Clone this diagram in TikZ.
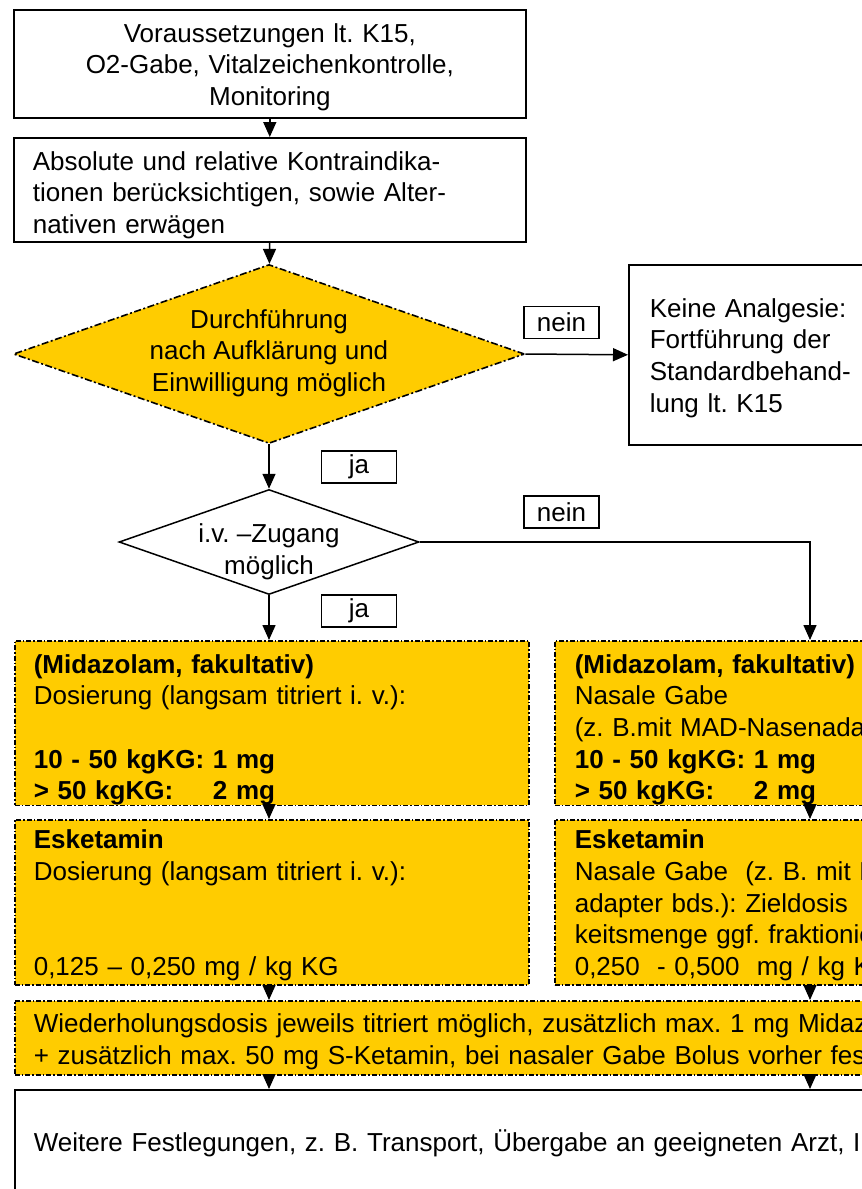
\documentclass[tikz,border=0pt]{standalone}
\usepackage{fontspec}
\setmainfont{Liberation Sans}
\usetikzlibrary{shapes.geometric,arrows.meta}
\definecolor{amber}{HTML}{FFCC00}
\frenchspacing
\begin{document}
\begin{tikzpicture}[x=1pt,y=-1pt,
  every node/.style={font=\fontsize{26}{31.7}\selectfont, inner sep=0pt},
  plainbox/.style={draw, line width=1.6pt, rectangle, anchor=north west},
  yellowbox/.style={draw, fill=amber, line width=1.6pt,
    dash pattern=on 5pt off 2pt on 1.5pt off 2pt, rectangle, anchor=north west},
  leftpad/.style={inner xsep=#1, align=left},
  tagbox/.style={draw, line width=1.4pt, minimum width=75pt, minimum height=32pt},
  decision/.style={diamond, draw, inner sep=0pt},
  arr/.style={line width=1.5pt, -{Triangle[length=15pt,width=13pt]}},
]
\useasboundingbox (0,0) rectangle (862,1189);
\fill[white] (0,0) rectangle (862,1189);
\clip (0,0) rectangle (862,1189);

% column of the nasal branch
\coordinate (rc) at (810,0);

% preparation steps
\node[plainbox, inner xsep=19pt, minimum width=512pt, minimum height=108pt, text width=474pt,
  align=center, text height=25.5pt] (b1) at (13,9)
  {Voraussetzungen lt. K15,\\O2-Gabe, Vitalzeichenkontrolle,\\Monitoring};
\node[plainbox, leftpad=19pt, minimum width=512pt, minimum height=104pt, text width=474pt, text height=29.5pt] (b2) at (13,137)
  {Absolute und relative Kontraindika-\\tionen berücksichtigen, sowie Alter-\\nativen erwägen};

% consent decision
\node[decision, fill=amber, line width=1.6pt, dash pattern=on 7pt off 2.5pt on 2pt off 2.5pt,
  minimum width=511pt, minimum height=179pt] (d1) at (269,354) {};
\node[align=center] (d1t) at (269,353) {Durchführung\\nach Aufklärung und\\Einwilligung möglich};

\node[plainbox, leftpad=21pt, minimum width=400pt, minimum height=180pt, text width=358pt, text height=25.2pt] (k) at (628,264)
  {Keine Analgesie:\\Fortführung der\\Standardbehand-\\lung lt. K15};

% venous access decision
\node[decision, line width=1.5pt, minimum width=300pt, minimum height=105pt] (d2) at (269,542) {};
\node[align=center] (d2t) at (269,552) {i.v. –Zugang\\möglich};

% answer tags
\node[tagbox] (nein1) at (561.5,322.5) {nein};
\node[tagbox] (ja1) at (359,467) {ja};
\node[tagbox] (nein2) at (561.5,512) {nein};
\node[tagbox] (ja2) at (359,611) {ja};

% midazolam
\node[yellowbox, leftpad=19pt, minimum width=514pt, minimum height=164pt, text width=476pt, text height=32.3pt] (mL) at (14,640)
  {\textbf{(Midazolam, fakultativ)}\\Dosierung (langsam titriert i. v.):\\\mbox{}\\
   \textbf{10 - 50 kgKG: 1 mg}\\\textbf{\rlap{> 50 kgKG:}\phantom{10 - 50 kgKG: }2 mg}};
\node[yellowbox, leftpad=20pt, minimum width=500pt, minimum height=164pt, text width=460pt, text height=32.3pt] (mR) at (554,640)
  {\textbf{(Midazolam, fakultativ)}\\Nasale Gabe\\(z. B.mit MAD-Nasenadapter bds.)\\
   \textbf{10 - 50 kgKG: 1 mg}\\\textbf{\rlap{> 50 kgKG:}\phantom{10 - 50 kgKG: }2 mg}};

% esketamin
\node[yellowbox, leftpad=19pt, minimum width=514pt, minimum height=165pt, text width=476pt, text height=25.3pt] (eL) at (14,819)
  {\textbf{Esketamin}\\Dosierung (langsam titriert i. v.):\\\mbox{}\\\mbox{}\\0,125 – 0,250 mg / kg KG};
\node[yellowbox, leftpad=20pt, minimum width=500pt, minimum height=165pt, text width=460pt, text height=25.3pt] (eR) at (554,819)
  {\textbf{Esketamin}\\Nasale Gabe\ \ (z. B. mit MAD-Nasen-\\adapter bds.): Zieldosis\\keitsmenge ggf. fraktioniert\\0,250\ \ - 0,500\ \ mg / kg KG};

% repetition and follow-up
\node[yellowbox, leftpad=19pt, minimum width=1000pt, minimum height=74pt, text width=962pt, text height=27.2pt] (w) at (14,1000)
  {Wiederholungsdosis jeweils titriert möglich, zusätzlich max. 1 mg Midazolam\\+ zusätzlich max. 50 mg S-Ketamin, bei nasaler Gabe Bolus vorher festlegen};
\node[plainbox, leftpad=19pt, minimum width=1000pt, minimum height=108pt, text width=962pt] (f) at (14,1089)
  {Weitere Festlegungen, z. B. Transport, Übergabe an geeigneten Arzt, Information};

% connectors
\draw[arr] (b1) -- (b2);
\draw[arr] (b2) -- (d1);
\draw[arr] (d1.east) -- (k.west);
\draw[arr] (d1) -- (d2);
\draw[arr] (d2.south) -- (d2.south |- mL.north);
\draw[arr] (d2.east) -| (rc |- mR.north);
\draw[arr] (mL.south -| d2.south) -- (eL.north -| d2.south);
\draw[arr] (mR.south -| rc) -- (eR.north -| rc);
\draw[arr] (eL.south -| d2.south) -- (w.north -| d2.south);
\draw[arr] (eR.south -| rc) -- (w.north -| rc);
\draw[arr] (w.south -| d2.south) -- (f.north -| d2.south);
\draw[arr] (w.south -| rc) -- (f.north -| rc);
\end{tikzpicture}
\end{document}
